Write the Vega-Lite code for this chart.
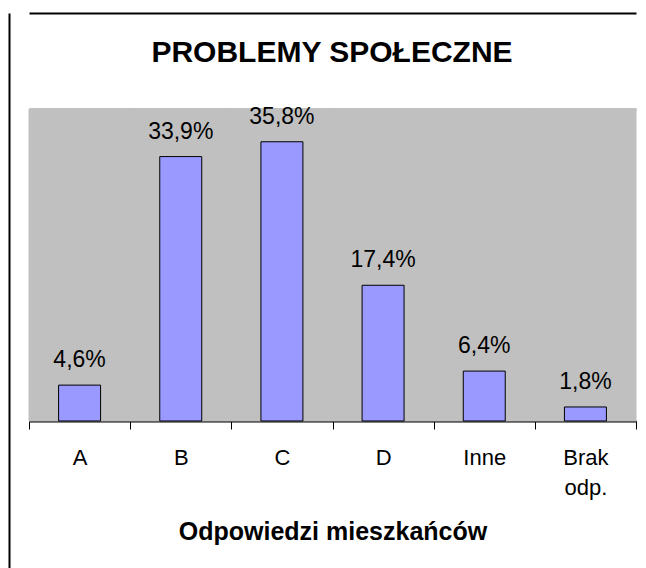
{
  "$schema": "https://vega.github.io/schema/vega-lite/v6.json",
  "width": 637,
  "height": 555,
  "autosize": "none",
  "padding": {"left": 9, "top": 13, "right": 0, "bottom": 0},
  "background": "white",
  "title": {
    "text": "PROBLEMY SPOŁECZNE",
    "font": "Liberation Sans",
    "fontSize": 30,
    "fontWeight": "bold",
    "color": "black",
    "anchor": "middle",
    "frame": "group",
    "baseline": "alphabetic",
    "offset": -79,
    "dx": 4.5
  },
  "data": {
    "values": [
      {"odpowiedz": "A", "udzial": 0.046},
      {"odpowiedz": "B", "udzial": 0.339},
      {"odpowiedz": "C", "udzial": 0.358},
      {"odpowiedz": "D", "udzial": 0.174},
      {"odpowiedz": "Inne", "udzial": 0.064},
      {"odpowiedz": "Brak odp.", "udzial": 0.018}
    ]
  },
  "layer": [
    {
      "mark": {"type": "bar", "width": {"band": 1}, "fill": "#C0C0C0", "stroke": "#C0C0C0", "strokeWidth": 1},
      "encoding": {
        "x": {
          "field": "odpowiedz", "type": "nominal", "sort": null,
          "scale": {"range": [20, 627], "paddingInner": 0, "paddingOuter": 0},
          "axis": {"orient": "top", "offset": -96, "domainColor": "#808080", "domainWidth": 2, "ticks": false, "labels": false, "title": null}
        },
        "y": {
          "datum": 0.4, "type": "quantitative",
          "scale": {"domain": [-0.188462, 0.523077], "nice": false, "zero": false},
          "axis": {"orient": "left", "domain": true, "domainColor": "black", "domainWidth": 2, "ticks": false, "labels": false, "title": null, "grid": true, "values": [0.523077], "gridColor": "black", "gridWidth": 2, "gridOpacity": 1}
        },
        "y2": {"datum": 0}
      }
    },
    {
      "mark": {"type": "bar", "width": {"band": 0.415}, "fill": "#9999FF", "stroke": "black", "strokeWidth": 1},
      "encoding": {
        "x": {
          "field": "odpowiedz", "type": "nominal", "sort": null,
          "scale": {"range": [20, 627], "paddingInner": 0, "paddingOuter": 0},
          "axis": {
            "orient": "bottom", "offset": -147,
            "domainColor": "black", "domainWidth": 2,
            "tickBand": "extent", "tickColor": "black", "tickWidth": 1, "tickSize": 8,
            "labelFont": "Liberation Sans", "labelFontSize": 22, "labelColor": "black", "labelAngle": 0,
            "labelPadding": 18, "labelLineHeight": 30, "labelExpr": "split(datum.label, ' ')",
            "title": "Odpowiedzi mieszkańców",
            "titleFont": "Liberation Sans", "titleFontSize": 25, "titleFontWeight": "bold", "titleColor": "black", "titlePadding": 21
          }
        },
        "y": {
          "field": "udzial", "type": "quantitative",
          "scale": {"domain": [-0.188462, 0.523077], "nice": false, "zero": false},
          "axis": {"orient": "left", "domain": true, "domainColor": "black", "domainWidth": 2, "ticks": false, "labels": false, "title": null, "grid": true, "values": [0.523077], "gridColor": "black", "gridWidth": 2, "gridOpacity": 1}
        }
      }
    },
    {
      "mark": {"type": "text", "baseline": "alphabetic", "align": "center", "dy": -18, "font": "Liberation Sans", "fontSize": 23, "color": "black"},
      "encoding": {
        "x": {
          "field": "odpowiedz", "type": "nominal", "sort": null,
          "scale": {"range": [20, 627], "paddingInner": 0, "paddingOuter": 0},
          "axis": null
        },
        "y": {
          "field": "udzial", "type": "quantitative",
          "scale": {"domain": [-0.188462, 0.523077], "nice": false, "zero": false},
          "axis": {"orient": "left", "domain": true, "domainColor": "black", "domainWidth": 2, "ticks": false, "labels": false, "title": null, "grid": true, "values": [0.523077], "gridColor": "black", "gridWidth": 2, "gridOpacity": 1}
        },
        "text": {"field": "udzial", "type": "quantitative", "format": ".1%"}
      }
    }
  ],
  "resolve": {"axis": {"x": "independent"}},
  "config": {
    "locale": {"number": {"decimal": ",", "thousands": " ", "grouping": [3], "currency": ["", " zł"]}},
    "view": {"stroke": null}
  }
}
